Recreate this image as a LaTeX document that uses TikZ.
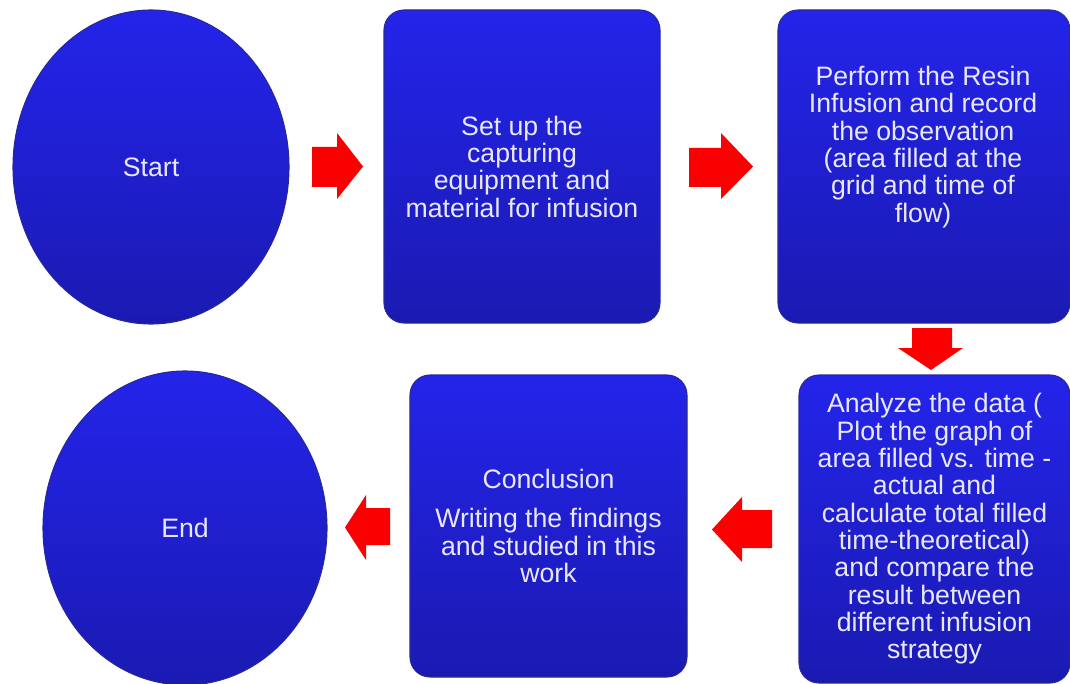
\documentclass[tikz,border=0pt]{standalone}
\usepackage{fontspec}
\setmainfont{Liberation Sans}
\usetikzlibrary{shapes.geometric}
\definecolor{boxtop}{RGB}{36,36,234}
\definecolor{boxbot}{RGB}{26,26,178}
\definecolor{boxedge}{RGB}{40,40,150}
\definecolor{txt}{RGB}{232,232,250}
\definecolor{arrred}{RGB}{250,0,0}
\tikzset{
  boxfont/.style={text=txt, align=center, font=\fontsize{20}{20.5}\selectfont},
  shapebase/.style={top color=boxtop, bottom color=boxbot, draw=boxedge, line width=0.8pt,
    boxfont, inner sep=0pt},
  oval/.style={shapebase, ellipse},
  stepbox/.style={shapebase, rectangle, rounded corners=15pt},
  blockarrow/.style={fill=arrred, draw=none},
}
\begin{document}
\begin{tikzpicture}[x=0.75pt,y=-0.75pt]
\useasboundingbox (0,0) rectangle (1070,684);
\clip (0,0) rectangle (1070,684);
% shapes
\node[oval, minimum width=276*0.75pt, minimum height=314*0.75pt] (start) at (151,167) {Start};
\node[stepbox, minimum width=276*0.75pt, minimum height=313*0.75pt] (setup) at (522,166.5)
  {Set up the\\capturing\\equipment and\\material for infusion};
\node[stepbox, minimum width=292*0.75pt, minimum height=313*0.75pt] (perform) at (924,166.5) {};
\node[boxfont, inner sep=0pt] (performtxt) at (923,147)
  {Perform the Resin\\Infusion and record\\the observation\\(area filled at the\\grid and time of\\flow)};
\node[stepbox, minimum width=271*0.75pt, minimum height=308*0.75pt] (analyze) at (934.5,529)
  {Analyze the data (\\Plot the graph of\\area filled vs. time -\\actual and\\calculate total filled\\time-theoretical)\\and compare the\\result between\\different infusion\\strategy};
\node[stepbox, minimum width=277*0.75pt, minimum height=302*0.75pt] (concl) at (548.5,526)
  {Conclusion\\[9pt]Writing the findings\\and studied in this\\work};
\node[oval, minimum width=284*0.75pt, minimum height=314*0.75pt] (finish) at (185,528) {End};
% block arrows
\fill[blockarrow] (312,147) -- (337,147) -- (337,133) -- (363,166.5) -- (337,199) -- (337,187) -- (312,187) -- cycle;
\fill[blockarrow] (689,148) -- (721,148) -- (721,133) -- (753,166.5) -- (721,199) -- (721,187) -- (689,187) -- cycle;
\fill[blockarrow] (912,328) -- (952,328) -- (952,348) -- (963,348) -- (931,370) -- (898,348) -- (912,348) -- cycle;
\fill[blockarrow] (772,510) -- (742,510) -- (742,497) -- (712,529.5) -- (742,562) -- (742,548) -- (772,548) -- cycle;
\fill[blockarrow] (390,508) -- (366,508) -- (366,495) -- (345,527.5) -- (366,560) -- (366,545) -- (390,545) -- cycle;
\end{tikzpicture}
\end{document}
